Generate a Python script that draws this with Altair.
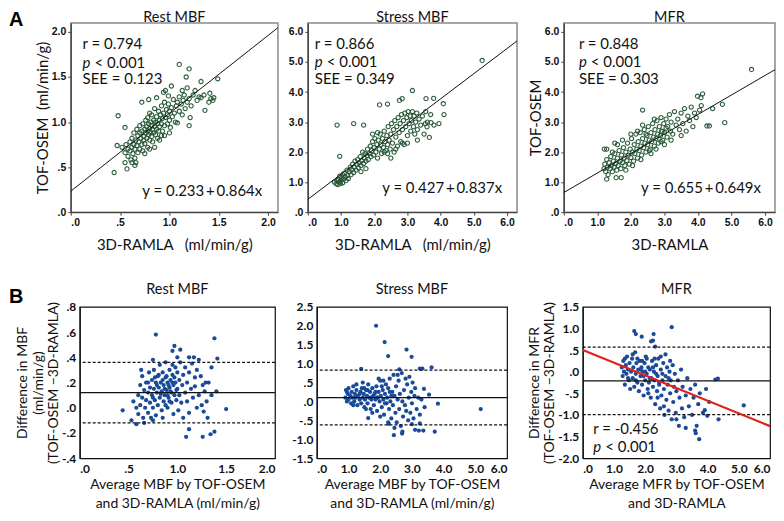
import altair as alt
import pandas as pd

FONT = "Lato"
TICKFONT = "Liberation Sans"

# ---------------- Panel A data: (3D-RAMLA, TOF-OSEM) ----------------
rest_pts = [
    (0.52,0.72),(0.55,0.66),(0.56,0.75),(0.58,0.62),(0.58,0.70),(0.60,0.68),(0.60,0.78),(0.61,0.58),(0.62,0.72),(0.62,0.82),
    (0.63,0.65),(0.64,0.75),(0.64,0.88),(0.65,0.60),(0.65,0.70),(0.66,0.80),(0.67,0.74),(0.67,0.92),(0.68,0.66),(0.68,0.85),
    (0.69,0.78),(0.70,0.70),(0.70,0.88),(0.70,0.96),(0.71,0.82),(0.72,0.75),(0.72,0.90),(0.73,0.68),(0.73,0.98),(0.74,0.84),
    (0.74,0.80),(0.75,0.92),(0.75,0.76),(0.76,0.88),(0.76,1.02),(0.77,0.82),(0.77,0.95),(0.78,0.72),(0.78,0.90),(0.78,1.05),
    (0.79,0.86),(0.79,0.98),(0.80,0.80),(0.80,0.93),(0.80,1.10),(0.81,0.88),(0.81,1.00),(0.82,0.84),(0.82,0.96),(0.82,1.08),
    (0.83,0.78),(0.83,0.92),(0.84,1.02),(0.84,0.88),(0.85,0.95),(0.85,1.15),(0.86,0.86),(0.86,1.00),(0.87,0.92),(0.87,1.06),
    (0.88,0.82),(0.88,0.98),(0.89,1.12),(0.89,0.90),(0.90,1.02),(0.90,0.95),(0.91,1.08),(0.92,0.98),(0.92,1.18),(0.93,0.90),
    (0.93,1.04),(0.94,1.10),(0.95,0.96),(0.95,1.22),(0.96,1.05),(0.97,1.14),(0.98,0.98),(0.98,1.08),(0.99,1.20),(1.00,1.02),
    (1.00,1.12),(1.01,0.94),(1.02,1.16),(1.03,1.06),(1.04,1.25),(1.05,1.10),(1.06,1.00),(1.07,1.18),(1.08,1.22),(1.10,1.12),
    (1.10,1.28),(1.12,1.20),(1.13,1.08),(1.14,1.24),(1.15,1.30),(1.16,1.15),(1.18,1.22),(1.20,1.26),(1.22,1.18),(1.24,1.30),
    (1.28,1.24),(1.30,1.28),(1.35,1.30),(1.40,1.22),(1.42,1.26),(1.44,1.24),(0.85,0.72),(0.90,0.80),(0.95,0.85),(1.00,0.88),
    (0.62,0.55),(0.66,0.55),(0.75,0.65),(0.80,0.70),
    (1.10,1.64),(1.20,1.59),(1.17,1.50),(1.32,1.45),(1.49,1.48),(1.02,1.40),(1.18,1.38),(1.26,1.35),(1.13,1.35),(1.45,1.27),
    (1.41,1.32),(1.36,1.13),(1.21,1.05),(1.20,0.96),(1.08,0.99),(0.92,0.85),(0.48,1.07),(0.55,0.94),(0.44,0.44),(0.57,0.48),
    (0.65,0.52),(0.47,0.74),(0.55,0.55),(0.72,1.22),(0.79,1.25),(0.87,1.27),(0.96,1.35),(0.94,1.33),(0.99,1.29),(1.32,1.27),
]
stress_pts = [
    (0.80,1.00),(0.85,0.95),(0.88,1.05),(0.90,0.92),(0.92,1.10),(0.95,1.00),(0.96,1.20),(0.98,0.95),(1.00,1.05),(1.02,1.15),
    (1.05,1.25),(1.05,0.98),(1.08,1.10),(1.10,1.30),(1.12,1.18),(1.15,1.05),(1.18,1.40),(1.20,1.22),(1.22,1.12),(1.25,1.35),
    (1.28,1.50),(1.30,1.25),(1.32,1.42),(1.35,1.60),(1.38,1.32),(1.40,1.50),(1.42,1.70),(1.45,1.40),(1.48,1.58),(1.50,1.75),
    (1.52,1.48),(1.55,1.65),(1.58,1.85),(1.60,1.55),(1.62,1.72),(1.65,2.00),(1.68,1.62),(1.70,1.80),(1.72,1.95),(1.75,1.70),
    (1.78,1.88),(1.80,2.10),(1.82,1.75),(1.85,1.95),(1.88,2.20),(1.90,1.85),(1.92,2.05),(1.95,2.35),(1.98,1.90),(2.00,2.15),
    (2.02,2.45),(2.05,2.00),(2.08,2.25),(2.10,1.80),(2.12,2.40),(2.15,2.10),(2.18,2.60),(2.20,2.25),(2.22,1.95),(2.25,2.45),
    (2.28,2.15),(2.30,2.70),(2.32,2.35),(2.35,2.05),(2.38,2.55),(2.40,2.25),(2.42,2.85),(2.45,2.40),(2.48,2.10),(2.50,2.60),
    (2.52,2.95),(2.55,2.30),(2.58,2.75),(2.60,2.00),(2.62,3.05),(2.65,2.50),(2.68,2.85),(2.70,2.20),(2.72,3.15),(2.75,2.65),
    (2.78,2.95),(2.80,2.35),(2.82,3.25),(2.85,2.75),(2.88,3.05),(2.90,2.25),(2.92,3.30),(2.95,2.85),(2.98,3.15),(3.00,2.55),
    (3.02,3.35),(3.05,2.95),(3.08,3.20),(3.10,2.70),(3.12,3.05),(3.15,3.35),(3.18,2.85),(3.20,3.20),(3.22,2.60),(3.25,3.00),
    (3.28,3.30),(3.30,2.75),(3.35,3.10),(3.40,2.90),(3.45,3.20),(3.50,2.60),(3.55,3.35),(3.60,3.00),(3.70,3.25),(3.80,2.90),
    (3.95,2.95),(4.10,3.25),(1.95,2.60),(2.10,2.65),(2.30,2.00),(2.40,1.95),(2.50,1.80),(2.65,2.10),(1.60,1.35),(1.75,1.45),
    (2.85,2.30),(3.00,2.30),(3.30,2.40),
    (5.25,5.05),(3.15,4.05),(0.88,2.90),(1.38,2.95),(1.68,2.90),(2.16,3.57),(2.40,3.60),(2.76,3.72),(2.84,3.78),(3.56,3.78),
    (3.79,3.79),(4.08,3.61),(3.54,2.95),(3.71,2.98),(3.59,2.84),(0.96,1.86),(3.66,2.49),
]
mfr_pts = [
    (1.20,1.45),(1.22,1.60),(1.25,1.35),(1.28,1.75),(1.30,1.50),(1.32,1.25),(1.35,1.65),(1.38,1.45),(1.40,1.85),(1.42,1.55),
    (1.45,1.35),(1.48,1.70),(1.50,1.50),(1.52,1.95),(1.55,1.62),(1.58,1.40),(1.60,1.80),(1.62,1.55),(1.65,2.05),(1.68,1.70),
    (1.70,1.45),(1.72,1.90),(1.75,1.65),(1.78,2.15),(1.80,1.80),(1.82,1.55),(1.85,2.00),(1.88,1.72),(1.90,2.30),(1.92,1.90),
    (1.95,1.60),(1.98,2.10),(2.00,1.82),(2.02,2.45),(2.05,2.00),(2.08,1.70),(2.10,2.25),(2.12,1.95),(2.15,2.60),(2.18,2.10),
    (2.20,1.80),(2.22,2.35),(2.25,2.05),(2.28,2.65),(2.30,2.20),(2.32,1.90),(2.35,2.45),(2.38,2.15),(2.40,2.75),(2.42,2.30),
    (2.45,2.00),(2.48,2.55),(2.50,2.25),(2.52,2.85),(2.55,2.40),(2.58,2.10),(2.60,2.65),(2.62,2.35),(2.65,2.95),(2.68,2.50),
    (2.70,2.20),(2.72,2.75),(2.75,2.45),(2.78,3.05),(2.80,2.60),(2.82,2.30),(2.85,2.85),(2.88,2.55),(2.90,3.15),(2.92,2.70),
    (2.95,2.40),(2.98,2.95),(3.00,2.65),(3.05,3.10),(3.08,2.50),(3.10,2.85),(3.15,3.25),(3.18,2.70),(3.20,3.00),(3.25,2.60),
    (3.30,3.35),(3.35,2.90),(3.40,3.10),(3.45,2.75),(3.50,3.30),(3.55,2.95),(3.60,3.45),(3.65,2.70),(3.70,3.20),(3.75,3.05),
    (3.80,3.50),(3.85,2.85),(3.90,3.30),(3.95,3.15),(4.05,3.40),(4.10,3.55),(1.60,2.25),(1.75,2.40),(2.00,2.60),(2.20,2.70),
    (1.85,1.40),(2.30,1.75),(2.60,1.95),(2.75,2.10),(3.00,2.25),(3.20,2.40),(3.50,2.55),(1.45,2.00),(2.05,1.55),(2.45,2.60),
    (2.55,2.05),(2.35,2.90),(2.90,2.35),(3.05,2.80),
    (5.60,4.75),(2.35,3.40),(2.70,3.10),(4.14,3.94),(4.09,3.81),(3.99,3.86),(4.44,3.45),(4.73,3.59),(4.80,2.98),(4.27,2.87),
    (4.34,2.87),(1.21,2.10),(1.28,2.10),(1.28,1.10),(1.56,1.15),(1.71,1.15),(1.52,2.30),(2.93,2.68),
]
rest_fit = (0.233, 0.864)
stress_fit = (0.427, 0.837)
mfr_fit = (0.655, 0.649)
rest_stats = ["r = 0.794", "< 0.001", "SEE = 0.123"]
stress_stats = ["r = 0.866", "< 0.001", "SEE = 0.349"]
mfr_stats = ["r = 0.848", "< 0.001", "SEE = 0.303"]
rest_eq = "y = 0.233\u2009+\u20090.864x"
stress_eq = "y = 0.427\u2009+\u20090.837x"
mfr_eq = "y = 0.655\u2009+\u20090.649x"

# ---------------- Panel B data: (average, difference) ----------------
rest_ba = [
    (0.55,0.05),(0.58,0.00),(0.60,0.10),(0.60,-0.05),(0.62,0.18),(0.62,0.02),(0.64,0.25),(0.64,0.08),(0.65,-0.08),(0.66,0.14),
    (0.67,0.00),(0.68,0.20),(0.68,0.06),(0.70,-0.04),(0.70,0.12),(0.71,0.28),(0.72,0.04),(0.72,0.16),(0.73,-0.08),(0.74,0.10),
    (0.74,0.22),(0.75,0.00),(0.76,0.15),(0.76,0.30),(0.77,0.06),(0.78,0.20),(0.78,-0.06),(0.79,0.12),(0.80,0.25),(0.80,0.02),
    (0.81,0.16),(0.82,0.34),(0.82,0.08),(0.83,0.20),(0.84,-0.02),(0.84,0.13),(0.85,0.28),(0.86,0.05),(0.86,0.18),(0.87,0.10),
    (0.88,0.24),(0.88,0.36),(0.89,0.14),(0.90,0.00),(0.90,0.20),(0.91,0.08),(0.92,0.30),(0.92,0.16),(0.93,0.22),(0.94,0.04),
    (0.94,0.12),(0.95,0.26),(0.96,0.18),(0.96,-0.05),(0.97,0.10),(0.98,0.32),(0.98,0.20),(0.99,0.06),(1.00,0.15),(1.00,0.28),
    (1.01,-0.02),(1.02,0.22),(1.02,0.10),(1.03,0.36),(1.04,0.04),(1.05,0.18),(1.06,0.26),(1.06,-0.08),(1.08,0.12),(1.08,0.32),
    (1.10,0.05),(1.10,0.20),(1.12,0.28),(1.12,-0.04),(1.14,0.15),(1.15,0.35),(1.16,0.08),(1.18,0.24),(1.20,0.00),(1.20,0.30),
    (1.22,0.10),(1.24,0.25),(1.26,0.18),(1.30,0.05),(1.32,0.20),(1.35,0.10),(0.85,0.22),(0.87,0.15),(0.89,0.25),(0.91,0.18),
    (0.93,0.13),(0.95,0.20),(0.97,0.24),(0.99,0.14),(0.83,0.11),(0.81,0.26),(0.79,0.18),(0.77,0.24),(0.75,0.08),(0.90,0.10),
    (0.92,0.05),(0.88,0.02),(0.95,0.34),(1.00,0.40),(0.85,-0.08),(0.75,-0.10),(0.70,0.20),(0.66,-0.12),(0.63,0.30),
    (0.78,0.58),(0.97,0.49),(1.03,0.46),(0.95,0.45),(1.38,0.55),(1.41,0.39),(1.35,0.32),(1.12,0.40),(1.17,0.40),(1.22,0.38),
    (1.09,-0.23),(1.26,-0.23),(1.34,-0.21),(1.38,-0.19),(1.12,-0.17),(1.50,-0.01),(0.44,-0.02),(0.53,-0.10),(0.58,-0.13),
    (1.28,0.13),(1.40,0.13),(1.29,0.20),(1.18,0.17),(1.25,0.02),(1.27,-0.03),(1.31,-0.08),(0.75,0.38),
]
stress_ba = [
    (0.90,0.10),(0.92,0.30),(0.95,0.00),(0.98,0.20),(1.00,0.35),(1.00,0.05),(1.05,0.15),(1.08,-0.05),(1.10,0.25),(1.12,0.10),
    (1.15,0.40),(1.18,0.00),(1.20,0.20),(1.22,0.10),(1.25,0.30),(1.28,-0.10),(1.30,0.15),(1.35,0.05),(1.38,0.25),(1.40,-0.05),
    (1.42,0.35),(1.45,0.10),(1.48,0.20),(1.50,-0.15),(1.52,0.05),(1.55,0.30),(1.58,0.15),(1.60,-0.05),(1.62,0.45),(1.65,0.10),
    (1.68,0.25),(1.70,-0.20),(1.72,0.05),(1.75,0.35),(1.78,0.15),(1.80,-0.10),(1.82,0.20),(1.85,0.05),(1.88,0.40),(1.90,-0.25),
    (1.92,0.10),(1.95,0.25),(1.98,0.00),(2.00,0.55),(2.02,0.15),(2.05,-0.15),(2.08,0.30),(2.10,0.05),(2.12,-0.35),(2.15,0.20),
    (2.18,0.45),(2.20,-0.05),(2.22,0.10),(2.25,0.35),(2.28,-0.20),(2.30,0.60),(2.32,0.00),(2.35,-0.45),(2.38,0.25),(2.40,-0.10),
    (2.42,0.70),(2.45,0.15),(2.48,-0.30),(2.50,0.40),(2.52,-0.55),(2.55,0.05),(2.58,0.55),(2.60,-0.20),(2.62,0.20),(2.65,-0.65),
    (2.68,0.75),(2.70,0.00),(2.72,-0.40),(2.75,0.30),(2.78,-0.10),(2.80,0.60),(2.82,-0.25),(2.85,0.45),(2.88,-0.50),(2.90,0.10),
    (2.92,0.65),(2.95,-0.30),(2.98,0.25),(3.00,-0.05),(3.02,0.50),(3.05,-0.45),(3.08,0.15),(3.10,0.35),(3.15,-0.20),(3.20,0.10),
    (3.25,-0.35),(3.30,0.05),(3.40,-0.15),(1.25,0.45),(1.55,-0.20),(1.75,-0.30),(2.00,-0.40),(2.25,-0.55),(2.45,-0.70),(2.60,0.85),
    (2.55,0.70),(2.10,0.55),(1.95,0.60),(1.45,0.50),(1.15,-0.10),(0.95,0.25),(1.60,0.30),(1.85,0.25),(2.05,0.40),(2.35,0.15),
    (1.70,0.10),(1.50,0.35),(1.35,0.20),(1.90,0.10),(2.15,-0.05),(2.30,0.25),(2.70,-0.80),(3.00,-0.60),(3.10,-0.75),
    (1.87,2.00),(2.14,1.57),(2.25,1.20),(2.83,1.37),(2.99,1.18),(1.40,0.86),(3.25,0.87),(3.33,0.87),(3.62,0.90),(5.17,-0.20),
    (3.72,-0.80),(3.22,-0.77),(3.36,-0.77),(2.43,-0.89),(2.69,-0.85),(3.25,-0.58),(3.38,0.33),(3.54,0.18),(3.82,-0.06),
    (1.62,-0.44),(2.27,-0.59),
]
mfr_ba = [
    (1.25,0.10),(1.28,-0.10),(1.30,0.25),(1.32,0.00),(1.35,-0.30),(1.38,0.15),(1.40,-0.05),(1.42,0.35),(1.45,0.05),(1.48,-0.20),
    (1.50,0.20),(1.52,-0.40),(1.55,0.00),(1.58,0.30),(1.60,-0.15),(1.62,0.10),(1.65,-0.35),(1.68,0.45),(1.70,-0.05),(1.72,0.20),
    (1.75,-0.25),(1.78,0.05),(1.80,-0.45),(1.82,0.25),(1.85,-0.10),(1.88,0.10),(1.90,-0.30),(1.92,0.00),(1.95,-0.55),(1.98,0.20),
    (2.00,-0.20),(2.02,0.35),(2.05,-0.05),(2.08,-0.40),(2.10,0.10),(2.12,-0.25),(2.15,0.05),(2.18,-0.60),(2.20,-0.15),(2.22,0.25),
    (2.25,-0.35),(2.28,0.00),(2.30,-0.20),(2.32,-0.75),(2.35,0.15),(2.38,-0.45),(2.40,-0.10),(2.42,0.30),(2.45,-0.30),(2.48,-0.85),
    (2.50,0.05),(2.52,-0.55),(2.55,-0.20),(2.58,0.20),(2.60,-0.40),(2.62,-1.00),(2.65,-0.10),(2.68,-0.65),(2.70,0.10),(2.72,-0.30),
    (2.75,-0.90),(2.78,0.00),(2.80,-0.50),(2.82,-0.20),(2.85,-1.10),(2.88,0.15),(2.90,-0.70),(2.92,-0.35),(2.95,-0.05),(2.98,-0.95),
    (3.00,-0.45),(3.05,-0.20),(3.08,-1.25),(3.10,-0.60),(3.15,0.05),(3.18,-0.85),(3.20,-0.35),(3.25,-1.05),(3.30,-0.55),(3.35,-0.15),
    (3.40,-0.80),(3.45,-0.40),(3.50,-1.00),(3.55,-0.60),(3.60,-0.30),(3.70,-0.75),(3.75,-0.50),(3.85,-0.95),(3.95,-0.40),(4.05,-0.70),
    (1.60,0.40),(1.75,0.30),(1.90,0.25),(2.05,0.30),(2.30,0.30),(2.50,0.35),(2.65,0.40),(2.80,0.25),(1.45,-0.15),(1.70,-0.20),
    (1.85,0.05),(2.00,0.00),(2.15,-0.15),(2.35,-0.05),(2.55,-0.05),(2.75,-0.15),(1.95,-0.10),(2.25,0.10),(2.45,-0.25),(2.10,-0.50),
    (2.40,-0.60),(2.60,-0.80),(1.35,0.30),(3.30,-1.30),(3.00,-1.10),
    (2.85,1.03),(1.65,0.94),(1.70,0.87),(1.89,0.81),(2.27,0.87),(2.25,0.72),(2.19,0.70),(2.32,0.58),(5.16,-0.78),(3.73,-1.56),
    (3.60,-1.36),(3.62,-1.42),(3.65,-1.25),(3.91,-0.89),(3.99,-1.02),(4.35,-1.10),(4.25,-0.18),(4.33,-0.16),
]
rest_loa = (0.12, -0.12, 0.36)      # mean, lower, upper
stress_loa = (0.10, -0.62, 0.83)
mfr_loa = (-0.21, -0.99, 0.57)
mfr_ba_fit = (0.50, -0.293)
mfr_ba_stats = ["r = -0.456", "< 0.001"]

LBL = ("(datum.value < 0 ? '-' : '') + (abs(datum.value) < 1 ? "
       "substring(format(abs(datum.value), '.1f'), 1) : format(abs(datum.value), '.1f'))")
NB = "\u00a0"


def top_panel(pts, fit, dmax, ticks, title, xtitle, ytitle, stats, sx, sys_, eq, ex, ey, w, h):
    df = pd.DataFrame(pts, columns=["x", "y"])
    ax = dict(grid=False, tickSize=3, tickColor="#444", domainColor="#444", domainWidth=1.3,
              labelFont=TICKFONT, labelFontWeight="bold", labelFontSize=10.5, labelColor="#111",
              titleFont=FONT, titleFontSize=15, titleFontWeight="normal", titleColor="#111")
    xe = alt.X("x:Q", scale=alt.Scale(domain=[0, dmax], nice=False, zero=False),
               axis=alt.Axis(values=ticks, labelExpr=LBL, title=xtitle, labelPadding=2, titlePadding=10, **ax))
    if ytitle:
        ye = alt.Y("y:Q", scale=alt.Scale(domain=[0, dmax], nice=False, zero=False),
                   axis=alt.Axis(values=ticks, labelExpr=LBL, title=ytitle, labelPadding=2, titlePadding=1, **ax))
    else:
        ye = alt.Y("y:Q", scale=alt.Scale(domain=[0, dmax], nice=False, zero=False),
                   axis=alt.Axis(values=ticks, labelExpr=LBL, title=None, labelPadding=2, **ax))
    pts_l = alt.Chart(df).mark_point(filled=False, size=18, strokeWidth=1.1, color="#245534", opacity=0.95).encode(x=xe, y=ye)
    ldf = pd.DataFrame({"x": [0, dmax], "y": [fit[0], fit[0] + fit[1] * dmax]})
    line = alt.Chart(ldf).mark_line(color="#111", strokeWidth=1, clip=True).encode(x=xe, y=ye)
    tdf = pd.DataFrame({"x": [sx, sx], "y": [sys_[0], sys_[2]], "t": [stats[0], stats[2]]})
    txt = alt.Chart(tdf).mark_text(align="left", baseline="middle", font=FONT, fontSize=15, color="#111").encode(
        x=xe, y=ye, text="t:N")
    pdf = pd.DataFrame({"x": [sx], "y": [sys_[1]], "t": ["p"]})
    ptxt = alt.Chart(pdf).mark_text(align="left", baseline="middle", font=FONT, fontSize=15, fontStyle="italic",
                                    color="#111").encode(x=xe, y=ye, text="t:N")
    p2df = pd.DataFrame({"x": [sx], "y": [sys_[1]], "t": [stats[1]]})
    p2txt = alt.Chart(p2df).mark_text(align="left", baseline="middle", font=FONT, fontSize=15, dx=12,
                                      color="#111").encode(x=xe, y=ye, text="t:N")
    edf = pd.DataFrame({"x": [ex], "y": [ey], "t": [eq]})
    etxt = alt.Chart(edf).mark_text(align="right", baseline="middle", font=FONT, fontSize=15,
                                    color="#111").encode(x=xe, y=ye, text="t:N")
    return alt.layer(pts_l, line, txt, ptxt, p2txt, etxt).properties(
        width=w, height=h,
        title=alt.TitleParams(title, font=FONT, fontSize=14.5, fontWeight="normal", color="#111", offset=-3),
        view=alt.ViewBackground(stroke="#8a8a8a", strokeWidth=1.5))


def ba_panel(pts, xmax, xticks, ydom, yticks, loa, title, xtitle, ytitle, w, h, extra=None):
    df = pd.DataFrame(pts, columns=["x", "y"])
    ax = dict(grid=False, ticks=False, domainColor="#111", domainWidth=1.2,
              labelFont=FONT, labelFontWeight="bold", labelFontSize=12, labelColor="#111",
              titleFont=FONT, titleFontSize=14, titleFontWeight="normal", titleColor="#111")
    xe = alt.X("x:Q", scale=alt.Scale(domain=[0, xmax], nice=False, zero=False),
               axis=alt.Axis(values=xticks, labelExpr=LBL, title=xtitle, labelPadding=5, titlePadding=3,
                             titleLineHeight=19, **ax))
    if ytitle:
        ye = alt.Y("y:Q", scale=alt.Scale(domain=ydom, nice=False, zero=False),
                   axis=alt.Axis(values=yticks, labelExpr=LBL, title=ytitle, labelPadding=4,
                                 titlePadding=1, titleLineHeight=15.5, **ax))
    else:
        ye = alt.Y("y:Q", scale=alt.Scale(domain=ydom, nice=False, zero=False),
                   axis=alt.Axis(values=yticks, labelExpr=LBL, title=None, labelPadding=4, **ax))
    dots = alt.Chart(df).mark_circle(size=18, color="#1a4a98", opacity=1).encode(x=xe, y=ye)
    mdf = pd.DataFrame({"y": [loa[0]]})
    mean_r = alt.Chart(mdf).mark_rule(color="#111", strokeWidth=1.3).encode(y=ye)
    ldf = pd.DataFrame({"y": [loa[1], loa[2]]})
    lim_r = alt.Chart(ldf).mark_rule(color="#111", strokeWidth=1.2, strokeDash=[3, 2]).encode(y=ye)
    layers = [dots, mean_r, lim_r]
    if extra:
        layers += extra(xe, ye)
    return alt.layer(*layers).properties(
        width=w, height=h,
        title=alt.TitleParams(title, font=FONT, fontSize=14.5, fontWeight="normal", color="#111", offset=3),
        view=alt.ViewBackground(stroke="#111", strokeWidth=1.2))


def mfr_extra(xe, ye):
    fdf = pd.DataFrame({"x": [0, 6], "y": [mfr_ba_fit[0], mfr_ba_fit[0] + mfr_ba_fit[1] * 6]})
    red = alt.Chart(fdf).mark_line(color="#e3211c", strokeWidth=2.2).encode(x=xe, y=ye)
    t1 = alt.Chart(pd.DataFrame({"x": [0.34], "y": [-1.33], "t": [mfr_ba_stats[0]]})).mark_text(
        align="left", baseline="middle", font=FONT, fontSize=15, color="#111").encode(x=xe, y=ye, text="t:N")
    t2 = alt.Chart(pd.DataFrame({"x": [0.34], "y": [-1.75], "t": ["p"]})).mark_text(
        align="left", baseline="middle", font=FONT, fontSize=15, fontStyle="italic", color="#111").encode(
        x=xe, y=ye, text="t:N")
    t3 = alt.Chart(pd.DataFrame({"x": [0.34], "y": [-1.75], "t": [mfr_ba_stats[1]]})).mark_text(
        align="left", baseline="middle", font=FONT, fontSize=15, dx=12, color="#111").encode(
        x=xe, y=ye, text="t:N")
    return [red, t1, t2, t3]


def spacer(w, h, letter="", ly=0):
    df = pd.DataFrame({"t": [letter]})
    return alt.Chart(df).mark_text(align="left", baseline="middle", font=TICKFONT, fontSize=20,
                                   fontWeight="bold", color="#000").encode(
        text="t:N", x=alt.value(0), y=alt.value(ly)).properties(
        width=w, height=h, view=alt.ViewBackground(stroke="transparent"))


H1, H2 = 190, 152
t6 = [0, 1, 2, 3, 4, 5, 6]
r1 = top_panel(rest_pts, rest_fit, 2.1, [0, 0.5, 1, 1.5, 2], "Rest MBF",
               "3D-RAMLA" + NB * 3 + "(ml/min/g)", "TOF-OSEM" + NB * 2 + "(ml/min/g)",
               rest_stats, 0.12, [1.87, 1.66, 1.48], rest_eq, 1.94, 0.23, 208, H1)
r2 = top_panel(stress_pts, stress_fit, 6.3, t6, "Stress MBF",
               "3D-RAMLA" + NB * 3 + "(ml/min/g)", None,
               stress_stats, 0.21, [5.61, 4.99, 4.43], stress_eq, 5.85, 0.82, 210, H1)
r3 = top_panel(mfr_pts, mfr_fit, 6.3, t6, "MFR", "3D-RAMLA", "TOF-OSEM",
               mfr_stats, 0.45, [5.61, 4.99, 4.43], mfr_eq, 5.88, 0.82, 212, H1)

b1 = ba_panel(rest_ba, 2.0, [0, 0.5, 1, 1.5, 2], [-0.4, 0.8], [-0.4, -0.2, 0, 0.2, 0.4, 0.6, 0.8], rest_loa,
              "Rest MBF", ["Average MBF by TOF-OSEM", "and 3D-RAMLA (ml/min/g)"],
              ["Difference in MBF", "(ml/min/g)", "(TOF-OSEM \u22123D-RAMLA)"], 196, H2)
b2 = ba_panel(stress_ba, 6.0, t6, [-1.5, 2.5], [-1.5, -1, -0.5, 0, 0.5, 1, 1.5, 2, 2.5], stress_loa,
              "Stress MBF", ["Average MBF by TOF-OSEM", "and 3D-RAMLA (ml/min/g)"], None, 191, H2)
b3 = ba_panel(mfr_ba, 6.0, t6, [-2.0, 1.5], [-2, -1.5, -1, -0.5, 0, 0.5, 1, 1.5], mfr_loa,
              "MFR", ["Average MFR by TOF-OSEM", "and 3D-RAMLA"],
              ["Difference in MFR", "(TOF-OSEM \u22123D-RAMLA)"], 188, H2, extra=mfr_extra)

row1 = alt.hconcat(spacer(62, H1, "A", -3), r1, spacer(30, H1), r2, spacer(47, H1), r3,
                   spacing=0, bounds="flush")
row2 = alt.hconcat(spacer(71, H2, "B", -10), b1, spacer(42, H2), b2, spacer(76, H2), b3,
                   spacing=0, bounds="flush")
chart = alt.vconcat(row1, row2, spacing=27).properties(padding=0)

chart.save("out.html", embed_options={"renderer": "svg", "actions": False})
